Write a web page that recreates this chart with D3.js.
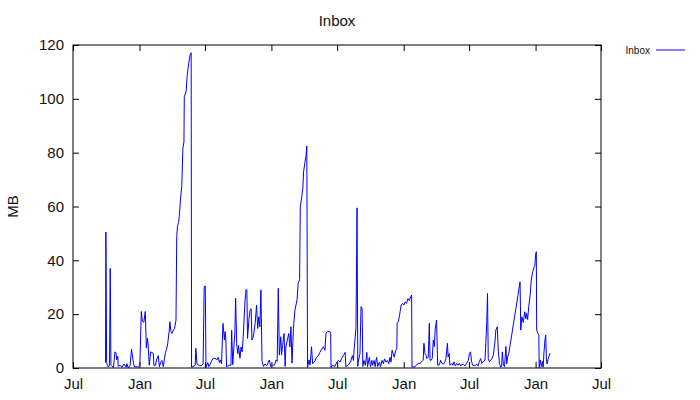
<!DOCTYPE html>
<html>
<head>
<meta charset="utf-8">
<script src="https://cdn.jsdelivr.net/npm/d3@7"></script>
<style>
  body { margin: 0; background: #fff; }
  text { font-family: "Liberation Sans", Arial, sans-serif; fill: #111; }
</style>
</head>
<body>
<div id="chart"></div>
<script>
// inbox size over time, one sample every few days

const startDate = new Date(2006, 6, 1);
const xDomain = [new Date(2006, 6, 1), new Date(2010, 6, 1)];
const yTicks = [0, 20, 40, 60, 80, 100, 120];
const seriesName = "Inbox";

// days since startDate
const dayOffsets = [
  90, 91, 93, 95, 98, 101, 103, 105, 108, 112, 116, 119, 121, 124, 125, 130, 136, 141, 147, 149,
  153, 158, 162, 164, 167, 170, 174, 180, 185, 189, 192, 196, 200, 203, 206, 208, 211, 215, 222, 224,
  228, 232, 236, 239, 243, 246, 250, 253, 256, 259, 262, 266, 268, 271, 274, 278, 281, 285, 287, 289,
  292, 294, 298, 301, 304, 307, 308, 313, 316, 320, 324, 327, 328, 332, 338, 340, 343, 349, 354, 360,
  363, 366, 368, 373, 376, 380, 384, 388, 393, 398, 402, 405, 408, 411, 415, 419, 421, 423, 425, 432,
  437, 439, 442, 448, 450, 453, 456, 458, 462, 465, 468, 471, 476, 479, 481, 483, 487, 490, 493, 495,
  499, 504, 508, 511, 514, 517, 520, 523, 527, 531, 536, 540, 543, 547, 552, 558, 562, 565, 568, 571,
  575, 577, 580, 584, 587, 589, 593, 597, 600, 603, 606, 610, 614, 620, 623, 627, 629, 633, 636, 638,
  642, 645, 647, 649, 653, 656, 660, 663, 667, 670, 674, 679, 683, 688, 693, 697, 700, 704, 711, 713,
  714, 717, 725, 730, 734, 739, 743, 748, 753, 755, 761, 768, 773, 776, 778, 781, 783, 786, 788, 789,
  794, 797, 800, 802, 805, 809, 813, 815, 820, 823, 827, 829, 833, 836, 840, 843, 848, 851, 855, 859,
  862, 866, 870, 874, 877, 880, 883, 886, 889, 893, 896, 897, 900, 903, 905, 908, 912, 916, 919, 923,
  927, 931, 933, 937, 938, 944, 951, 955, 960, 965, 969, 971, 974, 977, 979, 983, 986, 988, 991, 994,
  997, 1000, 1002, 1006, 1009, 1014, 1017, 1021, 1025, 1029, 1032, 1036, 1038, 1041, 1043, 1048, 1051, 1054, 1058, 1062,
  1066, 1069, 1073, 1076, 1080, 1085, 1089, 1094, 1097, 1100, 1103, 1106, 1110, 1113, 1117, 1121, 1124, 1128, 1131, 1135,
  1140, 1145, 1147, 1149, 1152, 1156, 1159, 1163, 1168, 1170, 1174, 1177, 1180, 1183, 1186, 1188, 1191, 1194, 1198, 1200,
  1203, 1206, 1237, 1239, 1242, 1246, 1250, 1253, 1255, 1258, 1261, 1265, 1268, 1272, 1276, 1278, 1280, 1282, 1283, 1286,
  1289, 1290, 1293, 1296, 1299, 1301, 1303, 1306, 1308, 1310, 1312, 1314, 1317, 1320
];

// inbox size, MB
const inboxMB = [
  2, 50.5, 2.3, 1.1, 0.3, 1, 37, 1, 0.6, 0.2, 6, 5.5, 3, 4.3, 0.6, 1, 0.3, 1.5, 0.3, 1.6,
  0, 1, 6.9, 5, 2.2, 0.4, 0.5, 0.3, 1, 21, 17.4, 17, 21, 7.4, 11, 8.5, 1, 6, 5.5, 1,
  1, 3.4, 4.6, 0.5, 2.2, 2.8, 0.5, 3.4, 5.8, 7, 9, 13.5, 17.2, 13.5, 12.9, 14.1, 14.7, 17.8, 48.8, 52.5,
  54, 56.2, 63.6, 67.4, 81.6, 84, 100.8, 102.7, 108.8, 113, 116.3, 117.1, 0.3, 0.5, 1, 7.3, 1.5, 1, 0.8, 1.5,
  30.2, 30.5, 0.3, 2, 0.5, 1.5, 2.8, 3.6, 3.6, 3, 4, 2, 3, 1.5, 16.6, 10.4, 13.5, 10.4, 0.5, 1,
  1, 14, 1.2, 13.5, 25.9, 9, 5.3, 8.4, 3.6, 7.8, 6, 11.6, 25, 29.2, 29, 11, 18.4, 21.5, 22, 10.4,
  11.6, 16.6, 23.4, 14.7, 19, 15.3, 29, 2.5, 0.6, 1.5, 0.8, 2, 3, 0.6, 1, 1.2, 3, 2.5, 29.6, 4.8,
  11.6, 4.8, 8.4, 12.8, 0.6, 7.8, 10.4, 12.8, 7.8, 15.3, 1.8, 14.7, 21.5, 25.3, 31.5, 32.8, 59.9, 63.6, 66.7, 72.9,
  76.6, 79.1, 82.5, 0.2, 3, 1.1, 7.9, 1.6, 2.2, 2.8, 4, 4.6, 5.8, 7, 7.9, 6.6, 12.9, 13.5, 13.5, 12.9,
  0.1, 1, 0.6, 2.2, 2.8, 2.2, 3.4, 4.6, 5.8, 0.5, 1, 2.2, 4.6, 2.8, 7.1, 11.6, 15, 59.5, 0.6, 2.2,
  5.3, 22.8, 22.2, 0.6, 2.8, 1, 5.8, 0.5, 4, 0.5, 2.8, 1, 2.8, 0.5, 4, 0.5, 2.2, 0.5, 2.8, 1.6,
  3.4, 2.2, 2.8, 1.6, 4, 2.2, 6.6, 5.3, 4, 6.6, 7.1, 16.6, 17.2, 19, 20.9, 23.4, 24, 23.4, 24.6, 24,
  25.8, 25, 26, 27.1, 0.3, 0.4, 1.1, 1.7, 1.7, 2.3, 2.9, 9.2, 5.4, 4.7, 3.5, 4, 16.6, 2.9, 2.9, 3.5,
  10.4, 7.9, 14.1, 17.8, 1, 1.2, 2.9, 1.7, 1.4, 2.3, 3.5, 9.2, 4.1, 5.4, 1, 1.7, 1, 2.3, 0.8, 1.7,
  1, 1.7, 0.8, 1.2, 1.4, 0.8, 1.7, 2.9, 5.4, 6, 2.3, 1, 0.8, 1, 1.4, 0.8, 2.3, 3.5, 1.7, 2.3,
  2.9, 17.2, 27.7, 3.5, 2.3, 2.9, 3.5, 4.7, 10.4, 14.1, 15.3, 6, 1.7, 0.4, 0.5, 6, 1, 0.5, 8, 1.5,
  4.3, 5.5, 32, 14.1, 19, 16.9, 20.9, 18.3, 20.3, 18, 22.8, 27.2, 32.7, 35.8, 37.6, 38.2, 42, 43.2, 14.1, 12.9,
  12.3, 0, 3, 0.5, 2.4, 0.3, 5.5, 10.4, 12.3, 3, 1.5, 3, 4.3, 5.5
];

const data = dayOffsets.map((d, i) => ({
  date: d3.timeDay.offset(startDate, d),
  value: inboxMB[i]
}));

const width = 700, height = 400;
const margin = ({ top: 45, right: 99, bottom: 32, left: 73 });

const svg = d3.select("#chart").append("svg")
  .attr("width", width)
  .attr("height", height);

const xScale = d3.scaleTime()
  .domain(xDomain)
  .range([margin.left, width - margin.right]);

const yScale = d3.scaleLinear()
  .domain([0, 120])
  .range([height - margin.bottom, margin.top]);

const monthTicks = d3.timeMonth.every(6);

// gnuplot style: ticks point inwards, mirrored on all four sides
svg.append("g")
  .attr("class", "axis x-axis")
  .attr("transform", `translate(0,${height - margin.bottom})`)
  .call(d3.axisBottom(xScale).ticks(monthTicks).tickFormat(d3.timeFormat("%b"))
    .tickSize(-6).tickSizeOuter(0).tickPadding(10))
  .call(g => g.selectAll("text").attr("font-size", 15));

svg.append("g")
  .attr("transform", `translate(0,${margin.top})`)
  .call(d3.axisTop(xScale).ticks(monthTicks).tickFormat("").tickSize(-6).tickSizeOuter(0));

svg.append("g")
  .attr("class", "axis y-axis")
  .attr("transform", `translate(${margin.left},0)`)
  .call(d3.axisLeft(yScale).tickValues(yTicks).tickSize(-6).tickSizeOuter(0).tickPadding(9))
  .call(g => g.selectAll("text").attr("font-size", 15));

svg.append("g")
  .attr("transform", `translate(${width - margin.right},0)`)
  .call(d3.axisRight(yScale).tickValues(yTicks).tickFormat("").tickSize(-6).tickSizeOuter(0));

svg.selectAll(".domain").remove();
svg.selectAll(".tick line").attr("stroke", "#000");
svg.selectAll(".tick text").attr("fill", "#111").attr("font-family", "Liberation Sans, Arial, sans-serif");

svg.append("rect")
  .attr("x", margin.left)
  .attr("y", margin.top)
  .attr("width", width - margin.left - margin.right)
  .attr("height", height - margin.top - margin.bottom)
  .attr("fill", "none")
  .attr("stroke", "#000");

const line = d3.line()
  .x(d => xScale(d.date))
  .y(d => yScale(d.value));

svg.append("path")
  .datum(data)
  .attr("fill", "none")
  .attr("stroke", "#0000ff")
  .attr("stroke-width", 1)
  .attr("d", line);

// title
svg.append("text")
  .attr("x", (margin.left + width - margin.right) / 2)
  .attr("y", 26)
  .attr("text-anchor", "middle")
  .attr("font-size", 15)
  .text(seriesName);

// y label
svg.append("text")
  .attr("transform", `translate(18,${(margin.top + height - margin.bottom) / 2}) rotate(-90)`)
  .attr("text-anchor", "middle")
  .attr("font-size", 15)
  .text("MB");

// legend
const legend = svg.append("g").attr("transform", "translate(650,50)");
legend.append("text")
  .attr("y", 4)
  .attr("text-anchor", "end")
  .attr("font-size", 10)
  .text(seriesName);
legend.append("line")
  .attr("x1", 6).attr("x2", 35)
  .attr("stroke", "#0000ff");
</script>
</body>
</html>
